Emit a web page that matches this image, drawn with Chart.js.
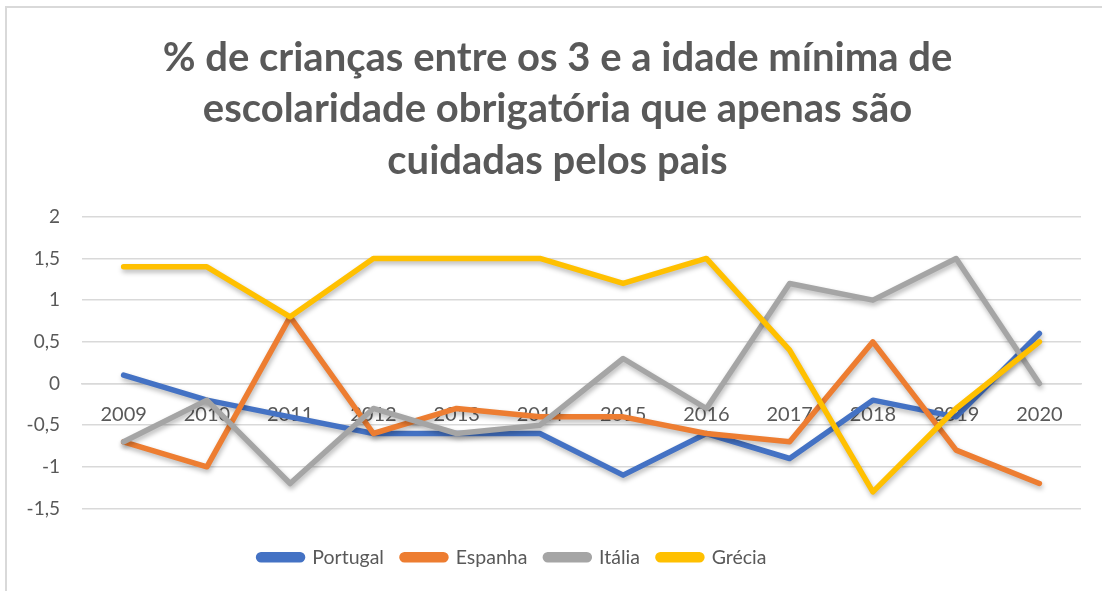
<!DOCTYPE html>
<html>
<head>
<meta charset="utf-8">
<script src="https://cdn.jsdelivr.net/npm/chart.js@4"></script>
<style>
html,body{margin:0;padding:0;background:#fff;}
#wrap{width:1102px;height:591px;position:relative;}
</style>
</head>
<body>
<div id="wrap"><canvas id="c" width="1102" height="591"></canvas></div>
<script>
const years = ['2009','2010','2011','2012','2013','2014','2015','2016','2017','2018','2019','2020'];
const portugal = [0.1, -0.2, -0.4, -0.6, -0.6, -0.6, -1.1, -0.6, -0.9, -0.2, -0.4, 0.6];
const espanha  = [-0.7, -1.0, 0.8, -0.6, -0.3, -0.4, -0.4, -0.6, -0.7, 0.5, -0.8, -1.2];
const italia   = [-0.7, -0.2, -1.2, -0.3, -0.6, -0.5, 0.3, -0.3, 1.2, 1.0, 1.5, 0.0];
const grecia   = [1.4, 1.4, 0.8, 1.5, 1.5, 1.5, 1.2, 1.5, 0.4, -1.3, -0.3, 0.5];
const titleLines = ['% de crianças entre os 3 e a idade mínima de', 'escolaridade obrigatória que apenas são', 'cuidadas pelos pais'];

const textColor = '#595959';
const gridColor = '#d9d9d9';

const shadowPlugin = {
  id: 'shadow',
  beforeDatasetDraw(chart) {
    const ctx = chart.ctx;
    ctx.save();
    ctx.shadowColor = 'rgba(0,0,0,0.28)';
    ctx.shadowBlur = 5;
    ctx.shadowOffsetX = 1;
    ctx.shadowOffsetY = 3;
  },
  afterDatasetDraw(chart) {
    chart.ctx.restore();
  }
};
const framePlugin = {
  id: 'frame',
  afterLayout(chart) {
    if (chart.titleBlock) { chart.titleBlock.left += 17; chart.titleBlock.right += 17; }
    if (chart.legend) { chart.legend.left -= 28; chart.legend.right -= 28; }
  },
  afterDraw(chart) {
    const ctx = chart.ctx;
    ctx.save();
    ctx.strokeStyle = '#d9d9d9';
    ctx.lineWidth = 2;
    ctx.beginPath();
    ctx.moveTo(6, 591);
    ctx.lineTo(6, 7);
    ctx.lineTo(1102, 7);
    ctx.stroke();
    ctx.restore();
  }
};

function ds(label, data, color, order) {
  return {
    label, data,
    borderColor: color, backgroundColor: color,
    borderWidth: 5.5, pointRadius: 0, tension: 0,
    borderCapStyle: 'round', borderJoinStyle: 'round',
    order
  };
}

new Chart(document.getElementById('c'), {
  type: 'line',
  data: {
    labels: years,
    datasets: [
      ds('Portugal', portugal, '#4472C4', 4),
      ds('Espanha', espanha, '#ED7D31', 3),
      ds('Itália', italia, '#A5A5A5', 2),
      ds('Grécia', grecia, '#FFC000', 1)
    ]
  },
  options: {
    responsive: false,
    animation: false,
    layout: { padding: { top: 32, left: 0, right: 21, bottom: 14 } },
    plugins: {
      tooltip: { enabled: false },
      title: {
        display: true,
        text: titleLines,
        color: textColor,
        font: { family: 'Lato', size: 40, weight: 'bold', lineHeight: 1.29 },
        padding: { top: 0, bottom: 30 }
      },
      legend: {
        position: 'bottom',
        title: { display: true, text: '', font: { size: 10, lineHeight: 1.2 }, padding: { top: 0, bottom: 9 } },
        labels: {
          color: textColor,
          font: { family: 'Lato', size: 19.5 },
          boxWidth: 44,
          boxHeight: 5,
          useBorderRadius: true,
          borderRadius: 2.5,
          padding: 18,
          sort: (a, b) => a.datasetIndex - b.datasetIndex
        }
      }
    },
    scales: {
      x: {
        position: { y: 0 },
        offset: true,
        grid: { display: false, drawTicks: false },
        border: { display: true, color: gridColor, width: 1.5 },
        ticks: { color: textColor, font: { family: 'Lato', size: 20 }, padding: 19, maxRotation: 0 }
      },
      y: {
        min: -1.5, max: 2,
        afterFit(s) { s.width = 82; },
        grid: { color: gridColor, lineWidth: 1.5, drawTicks: false },
        border: { display: false },
        ticks: {
          stepSize: 0.5,
          color: textColor,
          font: { family: 'Lato', size: 19 },
          padding: 22,
          callback: (v) => String(v).replace('.', ',')
        }
      }
    }
  },
  plugins: [shadowPlugin, framePlugin]
});
</script>
</body>
</html>
